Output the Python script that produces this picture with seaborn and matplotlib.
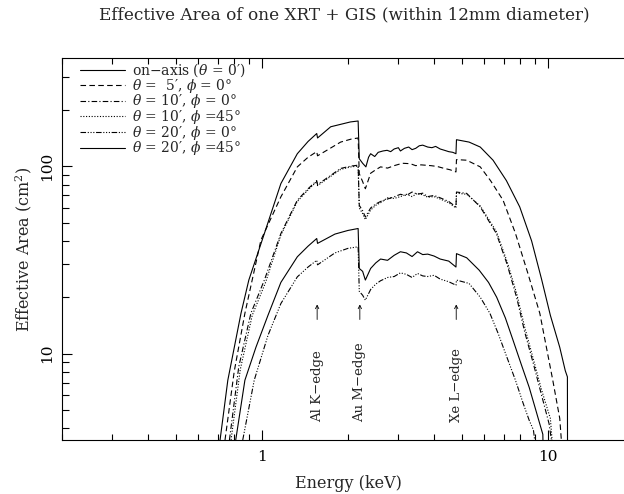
import pandas as pd
import matplotlib
matplotlib.use('Agg')
import matplotlib.pyplot as plt
import matplotlib.ticker as mticker
import seaborn as sns

sns.set_style('ticks')
plt.rcParams['font.family'] = ['DejaVu Serif']
plt.rcParams['mathtext.fontset'] = 'dejavuserif'
plt.rcParams['font.size'] = 10
plt.rcParams.update({
    'xtick.direction': 'in', 'ytick.direction': 'in',
    'xtick.top': True, 'ytick.right': False,
    'xtick.major.size': 7, 'ytick.major.size': 7.5,
    'xtick.minor.size': 4, 'ytick.minor.size': 5,
    'xtick.major.width': 0.8, 'ytick.major.width': 0.8,
    'xtick.minor.width': 0.8, 'ytick.minor.width': 0.8,
    'xtick.color': 'black', 'ytick.color': 'black',
    'xtick.major.pad': 7, 'ytick.major.pad': 6,
    'xtick.minor.visible': True, 'ytick.minor.visible': True,
})

# curve labels (legend order)
labels = [
    "on\u2212axis ($\\theta$ = 0\u2032)",
    "$\\theta$ =  5\u2032, $\\phi$ = 0\u00b0",
    "$\\theta$ = 10\u2032, $\\phi$ = 0\u00b0",
    "$\\theta$ = 10\u2032, $\\phi$ =45\u00b0",
    "$\\theta$ = 20\u2032, $\\phi$ = 0\u00b0",
    "$\\theta$ = 20\u2032, $\\phi$ =45\u00b0",
]

# on-axis
e_on = [0.714, 0.76, 0.845, 0.90, 1.02, 1.165, 1.33, 1.45, 1.555, 1.565, 1.74, 2.04, 2.17, 2.19, 2.25, 2.31,
        2.36, 2.40, 2.48, 2.55, 2.65, 2.74, 2.82, 2.9, 3.0, 3.05, 3.15, 3.26, 3.35, 3.45, 3.55, 3.65, 3.8,
        3.93, 4.05, 4.2, 4.35, 4.5, 4.65, 4.77, 4.79, 5.3, 5.8, 6.43, 7.16,
        7.97, 8.77, 9.5, 10.2, 11.0, 11.5, 11.7, 11.71]
a_on = [3.45, 7.2, 16.4, 24.7, 43.8, 81, 117, 136, 150, 142, 163, 173, 175, 110, 104, 99.5,
        112, 117, 113, 119, 121, 122, 120, 124, 126, 121, 125, 127, 123, 125, 129, 130, 127,
        126, 128, 124, 122, 120, 119, 117, 139, 135, 127, 108, 84,
        60.8, 40, 25, 16, 10.8, 8.1, 7.5, 3.4]

# theta = 5', phi = 0
e_5 = [0.743, 0.80, 0.872, 0.992, 1.165, 1.33, 1.45, 1.555, 1.565, 1.885, 2.05, 2.17, 2.19, 2.25, 2.30,
       2.40, 2.5, 2.6, 2.75, 2.9, 3.1, 3.3, 3.45, 3.6, 3.9, 4.1, 4.3, 4.55, 4.77, 4.79, 5.2, 5.8, 6.3,
       6.97, 7.7, 8.5, 9.37, 10.4, 11.0, 11.15]
a_5 = [3.45, 8.0, 16.4, 40.4, 68.8, 99.5, 112, 120, 114, 135, 140, 142, 91.5, 83, 76,
       92, 96, 99.5, 98, 101, 104, 103.5, 101, 102, 101, 100, 98, 96, 93.5, 108.8, 108, 99.5, 84,
       66, 43.9, 27, 16.4, 7.2, 4.5, 3.4]

# theta = 10', phi = 0
e_10a = [0.77, 0.83, 0.915, 1.02, 1.165, 1.33, 1.45, 1.555, 1.565, 1.885, 2.05, 2.17, 2.19, 2.25, 2.30,
         2.40, 2.5, 2.6, 2.75, 2.9, 3.05, 3.2, 3.35, 3.5, 3.65, 3.8, 4.0, 4.2, 4.5, 4.77, 4.79, 5.2, 5.8,
         6.6, 7.2, 7.77, 8.3, 8.9, 9.5, 10.1, 10.3]
a_10a = [3.45, 8.5, 16.4, 24.7, 43.8, 66, 76, 84, 80, 97.6, 100.5, 101.6, 62, 58, 53.7,
         60, 63, 65, 67, 68.8, 71, 70, 73, 71, 72, 69, 70, 68, 65, 60.8, 73, 71.8, 60.8,
         43.9, 30, 20, 13, 8.8, 6, 4.2, 3.4]

# theta = 10', phi = 45
e_10b = [0.78, 0.84, 0.925, 1.03, 1.165, 1.33, 1.45, 1.555, 1.565, 1.885, 2.05, 2.17, 2.19, 2.25, 2.30,
         2.40, 2.5, 2.6, 2.75, 2.9, 3.05, 3.2, 3.35, 3.5, 3.65, 3.8, 4.0, 4.2, 4.5, 4.77, 4.79, 5.2, 5.8,
         6.6, 7.2, 7.77, 8.3, 8.9, 9.5, 10.2, 10.35]
a_10b = [3.45, 8.2, 16.0, 24.0, 43.0, 65, 75, 83, 79, 96.5, 99.5, 100.5, 60, 56, 52,
         58.5, 62, 64, 68, 67.5, 69, 71, 69, 72, 70.5, 68.5, 69, 67, 64, 60, 72, 71, 61.5,
         45, 31, 21, 13.8, 9.3, 6.4, 4.5, 3.4]

# theta = 20', phi = 0
e_20a = [0.857, 0.94, 1.05, 1.165, 1.33, 1.45, 1.555, 1.565, 1.8, 2.0, 2.17, 2.19, 2.25, 2.30, 2.40,
         2.5, 2.6, 2.75, 2.9, 3.05, 3.2, 3.35, 3.5, 3.65, 3.8, 4.0, 4.2, 4.5, 4.77, 4.79, 5.3, 5.8, 6.27,
         6.7, 7.18, 7.7, 8.2, 8.6, 8.9, 9.0]
a_20a = [3.45, 7.2, 12.5, 18.5, 25.7, 29, 31.5, 29.8, 34.5, 36.5, 37.2, 21.5, 20.5, 19.3, 22,
         23.5, 24.5, 25.5, 25.8, 27, 26.5, 25.5, 26.8, 26, 25.8, 26.2, 25, 24.2, 23.2, 24.7, 23.7, 20, 16.4,
         12.8, 9.6, 7.2, 5.4, 4.4, 3.9, 3.4]

# theta = 20', phi = 45
e_20b = [0.81, 0.872, 0.953, 1.05, 1.165, 1.33, 1.45, 1.555, 1.565, 1.8, 2.0, 2.17, 2.19, 2.25, 2.30,
         2.40, 2.5, 2.6, 2.75, 2.9, 3.05, 3.2, 3.35, 3.5, 3.65, 3.8, 4.0, 4.2, 4.5, 4.77, 4.79, 5.2, 5.75,
         6.2, 6.62, 7.1, 7.55, 8.1, 8.6, 9.0, 9.37, 9.6, 9.61]
a_20b = [3.45, 7.2, 10.8, 16, 24, 32.9, 37.5, 41.2, 38.8, 43.5, 45.5, 46.6, 28.5, 27.5, 24.7,
         28.5, 30.5, 32, 31.5, 33.5, 35, 34.5, 33, 35, 33.8, 34, 33.2, 32, 31.2, 29, 34.2, 32.5, 27.9,
         24, 20, 15.5, 11.8, 8.6, 6.6, 5.2, 4.2, 3.7, 3.4]

edges = [1.56, 2.2, 4.78]
edge_labels = ['Al K\u2212edge', 'Au M\u2212edge', 'Xe L\u2212edge']
y_ticks = [10, 100]
y_ticklabels = ['10', '100']

series = [(e_on, a_on), (e_5, a_5), (e_10a, a_10a), (e_10b, a_10b), (e_20a, a_20a), (e_20b, a_20b)]
frames = []
for lab, (e, a) in zip(labels, series):
    frames.append(pd.DataFrame({'energy': e, 'area': a, 'curve': lab}))
df = pd.concat(frames, ignore_index=True)

dash_styles = {
    labels[0]: '',
    labels[1]: (5, 3),
    labels[2]: (5, 2, 1, 2),
    labels[3]: (1, 1.5),
    labels[4]: (5, 1.5, 1, 1.5, 1, 1.5, 1, 1.5),
    labels[5]: '',
}

fig = plt.figure(figsize=(6.24, 4.94), dpi=100)
ax = fig.add_axes([62 / 624, 54 / 494, 572 / 624, 382 / 494])

sns.lineplot(data=df, x='energy', y='area', style='curve', style_order=labels, dashes=dash_styles,
             color='black', linewidth=0.8, estimator=None, sort=False, ax=ax)

ax.set_xscale('log')
ax.set_yscale('log')
ax.set_xlim(0.2, 20)
ax.set_ylim(3.45, 380)

fmt = mticker.FuncFormatter(lambda v, p: f'{v:g}')
ax.xaxis.set_major_formatter(fmt)
ax.xaxis.set_minor_formatter(mticker.NullFormatter())
ax.yaxis.set_minor_formatter(mticker.NullFormatter())
ax.set_yticks(y_ticks, labels=y_ticklabels, rotation=90, va='center')
ax.tick_params(which='major', labelsize=11)
for s in ax.spines.values():
    s.set_linewidth(0.8)
    s.set_color('black')

for e, lab in zip(edges, edge_labels):
    ax.annotate('', xy=(e, 18.3), xytext=(e, 15.2),
                arrowprops=dict(arrowstyle='->', lw=0.6, color='black', shrinkA=0, shrinkB=0,
                                mutation_scale=6))
    ax.text(e, 4.3, lab, rotation=90, ha='center', va='bottom', fontsize=9.5)

ax.set_xlabel('Energy (keV)', fontsize=11.5, labelpad=8)
ax.set_ylabel('Effective Area (cm$^2$)', fontsize=11.5, labelpad=4)
fig.text(344 / 624, 1 - 15 / 494, 'Effective Area of one XRT + GIS (within 12mm diameter)',
         ha='center', va='center', fontsize=12.2)

handles, hl = ax.get_legend_handles_labels()
ax.legend(handles, hl, loc='upper left', bbox_to_anchor=(12.5 / 572, 1 + 2 / 382), frameon=False,
          fontsize=10, handlelength=3.2, borderaxespad=0.0, labelspacing=-0.17, handletextpad=0.55)

fig.savefig('out.png', dpi=100)
